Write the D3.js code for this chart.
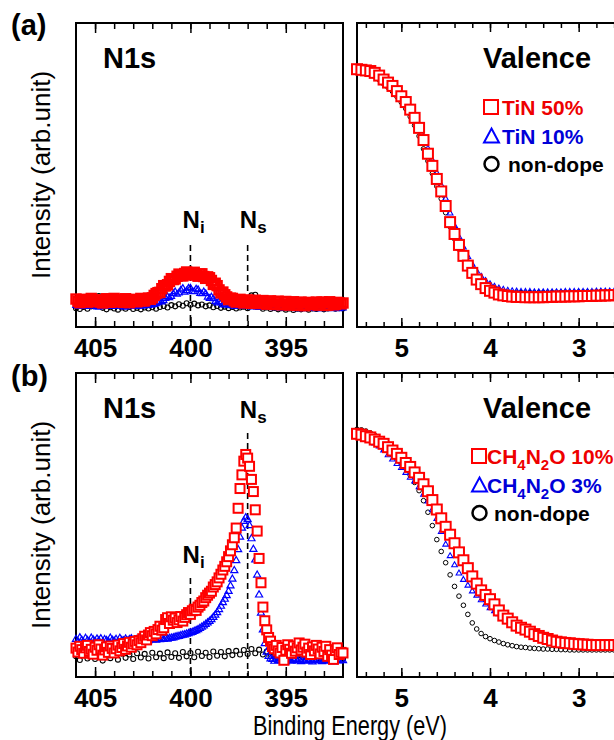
<!DOCTYPE html>
<html>
<head>
<meta charset="utf-8">
<script src="https://cdnjs.cloudflare.com/ajax/libs/d3/7.8.5/d3.min.js"></script>
<style>
  body { margin: 0; background: #fff; }
  svg { display: block; }
</style>
</head>
<body>
<div id="chart"></div>
<script>
// ---------------- data (intensity in arb. units 0-100) ----------------

// N1s scans, energy in eV, descending from 406 eV
const n1sStart = 406;
const n1sStepFine = 0.1;
const n1sStepCoarse = 0.2;

// (a) TiN doping
const n1sRedA = [
  9.2, 8.5, 8.0, 8.8, 9.1, 8.3, 8.2, 9.0, 9.4, 8.6,
  8.3, 8.9, 8.9, 8.2, 7.9, 8.7, 9.3, 8.5, 8.1, 9.0,
  9.4, 8.6, 8.2, 8.9, 8.8, 8.1, 9.3, 8.7, 8.0, 8.8,
  9.1, 8.4, 8.3, 8.9, 9.4, 8.6, 8.6, 9.2, 9.5, 9.1,
  9.6, 10.4, 11.0, 11.3, 11.4, 12.6, 13.6, 13.5, 13.9, 15.0,
  15.9, 15.6, 15.8, 16.7, 17.4, 16.9, 16.8, 17.6, 18.1, 17.5,
  17.1, 17.8, 18.0, 17.2, 16.7, 17.4, 17.5, 16.6, 16.0, 16.5,
  16.2, 15.3, 14.0, 14.4, 13.6, 12.2, 11.2, 11.5, 10.6, 9.9,
  9.0, 9.5, 9.4, 8.6, 8.2, 8.8, 9.1, 8.3, 7.9, 8.7,
  8.9, 8.1, 7.8, 8.6, 8.8, 8.0, 7.7, 8.5, 8.7, 7.9,
  7.5, 8.4, 8.6, 7.6, 7.4, 8.3, 8.5, 7.5, 7.3, 8.2,
  8.4, 7.4, 7.2, 8.1, 8.3, 7.3, 7.1, 8.0, 8.2, 7.2,
  7.0, 7.9, 8.1, 7.4, 7.4, 8.0, 8.2, 7.2, 7.3, 8.2,
  8.1, 7.1, 7.2, 8.3, 8.0, 7.3, 7.4, 8.1, 7.9, 7.6,
  7.9
];
const n1sBlueA = [
  7.1, 6.8, 6.7, 7.0, 7.0, 6.7, 6.8, 7.2, 7.2, 6.9,
  6.9, 6.6, 6.6, 7.0, 7.0, 6.8, 6.8, 7.1, 7.1, 6.7,
  6.7, 6.9, 6.9, 7.0, 7.0, 6.6, 6.6, 6.9, 6.9, 7.1,
  7.1, 6.8, 6.8, 6.9, 6.9, 7.0, 7.0, 7.1, 7.1, 7.2,
  7.3, 7.5, 7.6, 8.0, 8.4, 8.2, 8.6, 9.4, 10.0, 9.6,
  10.0, 11.0, 11.6, 10.8, 11.2, 12.2, 12.7, 11.4, 11.9, 12.8,
  12.8, 11.6, 11.7, 12.5, 12.3, 11.0, 10.9, 11.6, 11.0, 9.8,
  9.4, 9.9, 9.3, 8.4, 7.9, 8.3, 8.0, 7.3, 7.2, 7.5,
  7.2, 7.1, 7.0, 6.8, 6.9, 7.0, 7.1, 6.9, 6.8, 6.7,
  6.9, 6.8, 6.6, 6.7, 6.8, 6.6, 6.4, 6.5, 6.7, 6.5,
  6.4, 6.5, 6.6, 6.4, 6.3, 6.4, 6.5, 6.3, 6.2, 6.3,
  6.4, 6.2, 6.1, 6.2, 6.3, 6.1, 6.0, 6.1, 6.2, 6.0,
  6.4, 6.2, 6.1, 6.2, 6.3, 6.1, 6.0, 6.1, 6.2, 6.0,
  6.4, 6.3, 6.1, 6.2, 6.0, 6.1, 6.3, 6.2, 6.0, 6.3,
  6.2
];
const n1sBlackA = [
  6.2, 5.9, 6.6, 6.0, 6.8, 7.0, 10.2, 6.3, 5.8, 6.5,
  6.1, 5.7, 6.4, 6.0, 6.6, 5.9, 6.3, 5.8, 6.4, 6.1,
  6.5, 6.0, 6.6, 6.9, 6.4, 7.2, 6.8, 7.5, 7.0, 7.8,
  7.3, 7.7, 7.1, 7.4, 6.8, 7.1, 6.5, 6.9, 6.3, 6.7,
  6.2, 6.6, 6.1, 6.4, 6.7, 6.2, 10.4, 10.6, 6.6, 6.0,
  6.4, 5.9, 6.3, 5.8, 6.2, 5.7, 6.1, 5.6, 6.0, 5.8,
  6.2, 5.7, 6.1, 5.9, 6.3, 5.8, 6.1, 6.4, 6.0, 6.2,
  6.1
];

// (b) CH4N2O doping
const n1sRedB = [
  9.5, 8.2, 10.1, 9.0, 7.8, 9.6, 10.4, 8.4, 9.1, 7.5,
  9.8, 8.8, 10.6, 9.2, 7.2, 8.9, 9.9, 8.1, 10.2, 9.4,
  7.9, 9.3, 10.5, 8.6, 9.7, 11.0, 9.1, 10.2, 11.4, 9.8,
  10.9, 11.7, 10.6, 12.0, 11.3, 12.6, 13.4, 12.2, 13.8, 14.6,
  13.6, 15.0, 14.2, 15.6, 16.7, 15.4, 16.2, 18.9, 19.5, 17.6,
  19.8, 18.7, 19.4, 17.9, 18.8, 19.9, 18.4, 19.6, 20.5, 21.2,
  20.6, 21.8, 22.3, 21.9, 23.0, 23.6, 24.5, 25.0, 26.1, 26.9,
  27.6, 28.2, 29.6, 30.4, 31.3, 32.6, 33.8, 35.2, 36.4, 37.9,
  39.6, 41.5, 43.5, 45.8, 49.0, 55.5, 62.0, 66.5, 71.0, 73.2,
  72.0, 69.3, 65.0, 61.0, 55.0, 48.0, 39.0, 31.0, 23.0, 18.5,
  15.5, 13.0, 11.8, 10.0, 9.3, 10.4, 8.6, 7.9, 9.7, 5.5,
  8.8, 10.6, 9.1, 7.8, 10.2, 8.5, 9.6, 11.2, 8.9, 9.8,
  10.8, 8.2, 9.5, 7.4, 9.9, 8.6, 10.4, 9.2, 7.6, 9.8,
  8.4, 10.1, 6.8, 9.0, 7.2, 5.8, 8.7, 9.6, 7.4, 8.1,
  7.9
];
const n1sBlueB = [
  12.4, 11.6, 12.9, 12.1, 11.3, 12.7, 12.0, 11.5, 12.8, 12.2,
  11.7, 12.5, 11.9, 12.6, 11.4, 12.3, 12.0, 11.6, 12.8, 12.1,
  11.8, 12.4, 11.5, 12.7, 12.0, 11.9, 12.5, 11.7, 12.3, 12.6,
  12.0, 11.8, 12.4, 12.1, 12.6, 11.9, 12.3, 12.5, 12.0, 12.4,
  12.2, 12.6, 12.1, 12.5, 12.3, 12.7, 12.4, 12.6, 12.5, 12.7,
  12.8, 12.9, 13.1, 13.3, 13.4, 13.6, 13.8, 13.9, 14.1, 14.3,
  14.5, 14.7, 15.0, 15.3, 15.6, 16.0, 16.4, 16.8, 17.3, 17.8,
  18.3, 18.9, 19.6, 20.4, 21.2, 22.2, 23.3, 24.5, 25.6, 26.8,
  28.2, 30.0, 32.2, 35.0, 38.3, 41.9, 46.0, 49.0, 51.2, 52.4,
  51.8, 49.8, 45.5, 42.0, 38.5, 33.5, 27.0, 21.0, 15.5, 11.0,
  8.2, 6.8, 6.0, 5.8, 5.2, 5.9, 5.4, 6.1, 5.3, 5.7,
  5.0, 5.6, 5.9, 5.2, 5.5, 6.0, 5.3, 5.8, 5.1, 5.6,
  5.4, 5.9, 5.2, 5.7, 5.0, 5.5, 5.8, 5.3, 5.6, 5.1,
  5.7, 5.4, 5.9, 5.2, 5.6, 5.0, 5.5, 5.8, 5.3, 5.6,
  5.4
];
const n1sBlackB = [
  6.8, 5.6, 7.4, 6.1, 7.9, 5.9, 7.1, 5.4, 7.6, 6.2,
  7.3, 5.7, 7.7, 6.3, 7.4, 5.9, 7.8, 6.4, 7.6, 6.1,
  8.0, 6.5, 7.7, 6.2, 8.1, 6.6, 7.8, 6.3, 8.2, 6.8,
  7.9, 6.5, 8.3, 6.9, 8.0, 6.6, 8.4, 7.0, 8.2, 6.8,
  8.5, 7.2, 8.6, 7.4, 8.9, 7.6, 9.2, 7.8, 9.0, 7.4,
  8.4, 6.8, 7.6, 6.4, 7.3, 6.1, 7.1, 5.9, 6.9, 5.8,
  6.8, 5.7, 6.7, 5.8, 6.9, 5.9, 6.6, 5.6, 6.8, 6.0,
  6.0
];

// Valence band scans, 5.5 -> 2.5 eV
const valStart = 5.5;
const valStep = 0.05;

const valRedA = [
  84.8, 84.6, 84.4, 84.2, 83.6, 82.7, 81.4, 80.4, 79.3, 77.6,
  75.9, 74.0, 71.5, 68.8, 65.5, 61.5, 57.0, 53.0, 48.7, 44.6,
  39.8, 34.5, 30.6, 27.0, 23.4, 20.2, 17.8, 15.6, 14.1, 12.8,
  11.9, 11.3, 10.7, 10.4, 10.2, 10.0, 9.9, 9.9, 9.8, 9.8,
  9.8, 9.8, 9.8, 9.9, 9.9, 10.0, 10.0, 10.0, 10.1, 10.1,
  10.1, 10.2, 10.2, 10.2, 10.3, 10.3, 10.4, 10.4, 10.5, 10.5,
  10.5
];
const valBlueA = [
  85.4, 85.1, 84.8, 84.4, 83.7, 82.8, 81.6, 80.5, 79.3, 77.8,
  76.1, 74.3, 72.0, 69.5, 66.4, 62.6, 58.7, 54.8, 50.6, 46.6,
  42.2, 37.4, 33.3, 29.6, 26.2, 23.1, 20.5, 18.3, 16.6, 15.2,
  14.1, 13.3, 12.7, 12.3, 12.0, 11.8, 11.7, 11.6, 11.6, 11.6,
  11.5, 11.5, 11.5, 11.5, 11.5, 11.5, 11.5, 11.6, 11.6, 11.6,
  11.6, 11.6, 11.6, 11.6, 11.7, 11.7, 11.7, 11.7, 11.7, 11.7,
  11.7
];
const valBlackA = [
  84.5, 84.2, 83.8, 83.2, 82.4, 81.3, 80.0, 78.8, 77.5, 75.8,
  73.9, 71.8, 69.2, 66.3, 62.8, 58.6, 54.6, 50.5, 46.3, 42.2,
  37.6, 33.0, 29.0, 25.6, 22.4, 19.6, 17.4, 15.6, 14.2, 13.2,
  12.5, 12.0, 11.7, 11.5, 11.4, 11.3, 11.3, 11.3, 11.3, 11.3,
  11.3, 11.3, 11.3, 11.3, 11.3, 11.4, 11.4, 11.4, 11.4, 11.4,
  11.5, 11.5, 11.5, 11.5, 11.5, 11.5, 11.6, 11.6, 11.6, 11.6,
  11.6
];
const valRedB = [
  80.0, 79.7, 79.2, 78.8, 78.1, 77.4, 76.7, 75.6, 74.5, 73.4,
  72.1, 70.4, 69.1, 67.3, 65.5, 63.4, 61.1, 58.2, 55.1, 52.2,
  49.4, 46.8, 44.0, 41.0, 38.4, 35.8, 33.1, 30.7, 28.5, 27.0,
  25.6, 23.9, 21.9, 20.2, 19.2, 18.0, 16.9, 16.2, 15.6, 14.9,
  14.1, 13.5, 12.9, 12.5, 12.0, 11.6, 11.4, 11.2, 11.1, 10.9,
  10.8, 10.7, 10.6, 10.5, 10.5, 10.5, 10.5, 10.5, 10.5, 10.5,
  10.5
];
const valBlueB = [
  79.0, 78.7, 78.3, 77.7, 76.9, 75.9, 74.6, 73.0, 71.6, 70.1,
  68.8, 67.2, 65.6, 64.4, 62.5, 60.0, 57.8, 55.0, 52.0, 47.8,
  43.6, 39.8, 36.8, 34.1, 32.0, 30.1, 28.2, 26.8, 25.3, 23.9,
  22.7, 21.7, 20.7, 19.7, 18.7, 17.7, 16.7, 15.9, 15.0, 14.2,
  13.5, 12.8, 12.1, 11.6, 11.2, 10.9, 10.6, 10.3, 10.1, 9.9,
  9.7, 9.6, 9.5, 9.4, 9.4, 9.3, 9.3, 9.3, 9.3, 9.3,
  9.3
];
const valBlackB = [
  81.5, 81.3, 80.9, 80.3, 79.5, 78.4, 77.0, 75.6, 74.0, 72.3,
  70.5, 68.6, 66.4, 64.0, 61.3, 58.0, 54.2, 49.8, 45.2, 41.3,
  37.6, 33.6, 29.8, 26.6, 23.6, 20.6, 17.8, 15.8, 14.3, 13.3,
  12.6, 12.0, 11.5, 11.0, 10.6, 10.3, 10.0, 9.8, 9.7, 9.5,
  9.4, 9.3, 9.2, 9.2, 9.1, 9.1, 9.0, 9.0, 8.9, 8.9,
  8.9, 8.9, 8.9, 8.9, 8.9, 8.9, 8.9, 8.9, 8.9, 8.9,
  8.9
];

// axis ticks
const n1sMajorTicks = [405, 400, 395];
const valMajorTicks = [5, 4, 3];

// legends and labels ([text, isSubscript])
const legendA = [
  [["TiN 50%", 0]],
  [["TiN 10%", 0]],
  [["non-dope", 0]]
];
const legendB = [
  [["CH", 0], ["4", 1], ["N", 0], ["2", 1], ["O 10%", 0]],
  [["CH", 0], ["4", 1], ["N", 0], ["2", 1], ["O 3%", 0]],
  [["non-dope", 0]]
];
const peakLines = [ { name: "i", energy: 400 }, { name: "s", energy: 397 } ];

// ---------------- drawing ----------------
const fontFamily = '"Liberation Sans", Arial, Helvetica, sans-serif';
const RED = "#ff0000", BLUE = "#0000ff", BLACK = "#000000";

const svg = d3.select("#chart")
    .append("svg")
    .attr("width", 614)
    .attr("height", 740)
    .style("font-family", fontFamily);

// x scales shared by both rows
const n1sX = d3.scaleLinear().domain([406, 392]).range([76, 343]);
const valX = d3.scaleLinear().domain([5.5, 2.5]).range([357, 623]);

function series(start, step, values) {
    return values.map((v, i) => [start - step * i, v]);
}

function drawTicks(g, x, top, bottom, minor, major, minorLen, majorLen) {
    const axes = [
        [d3.axisBottom(x).tickValues(minor).tickSize(-minorLen).tickFormat(""), bottom],
        [d3.axisTop(x).tickValues(minor).tickSize(-minorLen).tickFormat(""), top],
        [d3.axisTop(x).tickValues(major).tickSize(-majorLen).tickFormat(""), top],
        [d3.axisBottom(x).tickValues(major).tickSize(-majorLen).tickPadding(11.5).tickFormat(d3.format("d")), bottom]
    ];
    axes.forEach(([axis, pos]) => {
        const ag = g.append("g")
            .attr("transform", `translate(0,${pos})`)
            .call(axis);
        ag.select(".domain").remove();
        ag.selectAll("line").attr("stroke-width", 1.5);
        ag.selectAll("text")
            .attr("font-family", fontFamily)
            .attr("font-size", 26)
            .attr("font-weight", "bold")
            .attr("fill", "#000");
    });
}

function drawSquares(g, x, y, data, size, stroke, fill) {
    g.append("g").selectAll("rect")
        .data(data)
        .join("rect")
        .attr("x", d => x(d[0]) - size / 2)
        .attr("y", d => y(d[1]) - size / 2)
        .attr("width", size)
        .attr("height", size)
        .attr("fill", fill)
        .attr("stroke", RED)
        .attr("stroke-width", stroke);
}

function drawTriangles(g, x, y, data, area, stroke) {
    const sym = d3.symbol().type(d3.symbolTriangle).size(area);
    g.append("g").selectAll("path")
        .data(data)
        .join("path")
        .attr("d", sym)
        .attr("transform", d => `translate(${x(d[0])},${y(d[1])})`)
        .attr("fill", "none")
        .attr("stroke", BLUE)
        .attr("stroke-width", stroke);
}

function drawCircles(g, x, y, data, r, stroke) {
    g.append("g").selectAll("circle")
        .data(data)
        .join("circle")
        .attr("cx", d => x(d[0]))
        .attr("cy", d => y(d[1]))
        .attr("r", r)
        .attr("fill", "none")
        .attr("stroke", BLACK)
        .attr("stroke-width", stroke);
}

function drawLegend(g, x0, y0, rows, textX) {
    const textColors = ["#ee0000", "#0000d8", "#000"];
    rows.forEach((parts, i) => {
        const base = y0 + i * 28.5;
        if (i === 0) {
            g.append("rect").attr("x", x0).attr("y", base - 15).attr("width", 14).attr("height", 14)
                .attr("fill", "none").attr("stroke", RED).attr("stroke-width", 2);
        } else if (i === 1) {
            g.append("path")
                .attr("d", `M${x0 + 7.5},${base - 15} L${x0 + 15},${base - 1} L${x0},${base - 1} Z`)
                .attr("fill", "none").attr("stroke", BLUE).attr("stroke-width", 2);
        } else {
            g.append("circle").attr("cx", x0 + 7.5).attr("cy", base - 8).attr("r", 7)
                .attr("fill", "none").attr("stroke", BLACK).attr("stroke-width", 2.5);
        }
        const t = g.append("text")
            .attr("x", textX[i])
            .attr("y", base)
            .attr("font-size", 21)
            .attr("font-weight", "bold")
            .attr("fill", textColors[i]);
        // subscripts drop 6px, the following text goes back up
        let shift = 0;
        parts.forEach(([s, sub]) => {
            const target = sub ? 6 : 0;
            t.append("tspan")
                .attr("font-size", sub ? 15 : 21)
                .attr("dy", target - shift)
                .text(s);
            shift = target;
        });
    });
}

function drawPeakLabel(g, x, name, energy, labelBase, lineTop, bottom) {
    const px = x(energy);
    g.append("line")
        .attr("x1", px).attr("x2", px)
        .attr("y1", lineTop).attr("y2", bottom)
        .attr("stroke", "#000")
        .attr("stroke-width", 1.6)
        .attr("stroke-dasharray", "6,4");
    g.append("text")
        .attr("x", px - 8)
        .attr("y", labelBase)
        .attr("font-size", 24)
        .attr("font-weight", "bold")
        .text("N");
    g.append("text")
        .attr("x", px + 9.5)
        .attr("y", labelBase + 5)
        .attr("font-size", 17)
        .attr("font-weight", "bold")
        .text(name);
}

function drawRow(cfg) {
    const { top, bottom, tag, tagBase } = cfg;
    const y = d3.scaleLinear().domain([0, 100]).range([bottom, top]);
    const g = svg.append("g");

    // N1s frame and ticks
    g.append("rect")
        .attr("x", n1sX.range()[0]).attr("y", top)
        .attr("width", n1sX.range()[1] - n1sX.range()[0]).attr("height", bottom - top)
        .attr("fill", "none").attr("stroke", "#000").attr("stroke-width", 2);
    drawTicks(g, n1sX, top, bottom, d3.range(405, 392, -1), n1sMajorTicks, 6, 10);

    // valence frame and ticks
    g.append("rect")
        .attr("x", valX.range()[0]).attr("y", top)
        .attr("width", valX.range()[1] - valX.range()[0]).attr("height", bottom - top)
        .attr("fill", "none").attr("stroke", "#000").attr("stroke-width", 2);
    drawTicks(g, valX, top, bottom, d3.range(5.4, 2.55, -0.2), valMajorTicks, 5, 9);

    // peak markers
    cfg.peaks.forEach((p, i) =>
        drawPeakLabel(g, n1sX, peakLines[i].name, peakLines[i].energy, p.labelBase, p.lineTop, bottom));

    // N1s data: black, blue, red on top
    drawCircles(g, n1sX, y, cfg.n1sBlack, 2.5, 1.1);
    drawTriangles(g, n1sX, y, cfg.n1sBlue, cfg.triArea, 1.2);
    drawSquares(g, n1sX, y, cfg.n1sRed, cfg.sqSize, cfg.sqStroke, cfg.sqFill);

    // valence data
    drawCircles(g, valX, y, cfg.valBlack, 2.3, 1);
    drawTriangles(g, valX, y, cfg.valBlue, 14, 1.1);
    drawSquares(g, valX, y, cfg.valRed, 10, 2, "#fff");

    // titles
    g.append("text").attr("x", 103).attr("y", top + 45)
        .attr("font-size", 29).attr("font-weight", "bold").text("N1s");
    g.append("text").attr("x", 483).attr("y", top + 45)
        .attr("font-size", 29).attr("font-weight", "bold").text("Valence");

    // panel tag
    g.append("text").attr("x", 11).attr("y", tagBase)
        .attr("font-size", 29).attr("font-weight", "bold").text(tag);

    // y label
    g.append("text")
        .attr("transform", "rotate(-90)")
        .attr("x", -(top + bottom) / 2)
        .attr("y", 50)
        .attr("text-anchor", "middle")
        .attr("font-size", 26)
        .text("Intensity (arb.unit)");

    // legend
    drawLegend(g, cfg.legendX, top + cfg.legendDy, cfg.legend, cfg.legendTextX);
}

drawRow({
    top: 23, bottom: 327, tag: "(a)", tagBase: 35,
    n1sRed: series(n1sStart, n1sStepFine, n1sRedA),
    n1sBlue: series(n1sStart, n1sStepFine, n1sBlueA),
    n1sBlack: series(n1sStart, n1sStepCoarse, n1sBlackA),
    valRed: series(valStart, valStep, valRedA),
    valBlue: series(valStart, valStep, valBlueA),
    valBlack: series(valStart, valStep, valBlackA),
    sqSize: 9, sqStroke: 2.4, sqFill: "none", triArea: 18,
    peaks: [ { labelBase: 228, lineTop: 245 }, { labelBase: 228, lineTop: 245 } ],
    legend: legendA, legendX: 484, legendDy: 92, legendTextX: [502, 502, 508]
});

drawRow({
    top: 373, bottom: 677, tag: "(b)", tagBase: 386,
    n1sRed: series(n1sStart, n1sStepFine, n1sRedB),
    n1sBlue: series(n1sStart, n1sStepFine, n1sBlueB),
    n1sBlack: series(n1sStart, n1sStepCoarse, n1sBlackB),
    valRed: series(valStart, valStep, valRedB),
    valBlue: series(valStart, valStep, valBlueB),
    valBlack: series(valStart, valStep, valBlackB),
    sqSize: 9, sqStroke: 2, sqFill: "#fff", triArea: 22,
    peaks: [ { labelBase: 563, lineTop: 578 }, { labelBase: 418, lineTop: 433 } ],
    legend: legendB, legendX: 472, legendDy: 91, legendTextX: [487, 487, 494]
});

// x label
svg.append("text")
    .attr("x", 350)
    .attr("y", 735)
    .attr("text-anchor", "middle")
    .attr("font-size", 27)
    .attr("textLength", 194)
    .attr("lengthAdjust", "spacingAndGlyphs")
    .text("Binding Energy (eV)");
</script>
</body>
</html>
